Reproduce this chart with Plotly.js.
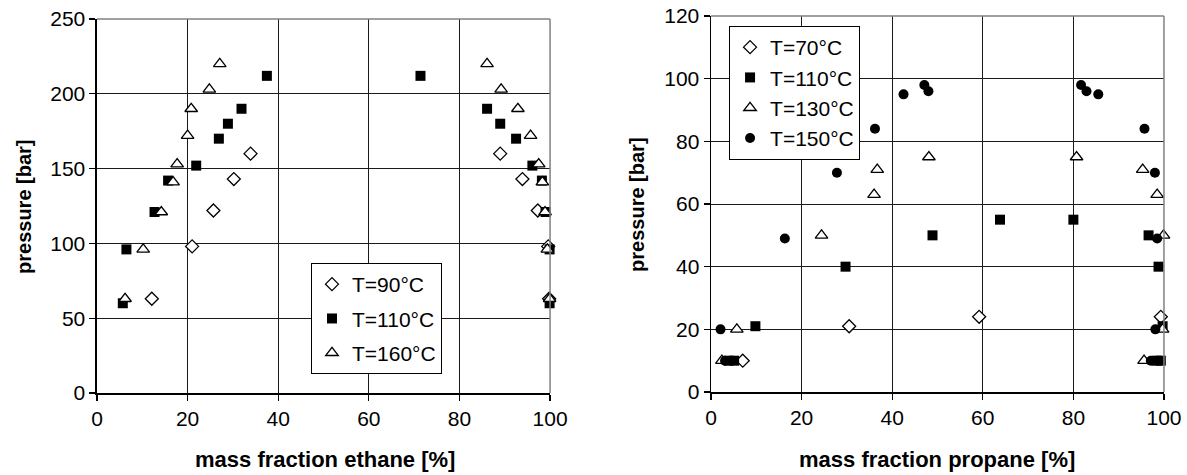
<!DOCTYPE html>
<html>
<head>
<meta charset="utf-8">
<script src="https://cdn.plot.ly/plotly-3.0.1.min.js"></script>
<style>html,body{margin:0;padding:0;background:#fff;}#chart{width:1187px;height:475px;}</style>
</head>
<body>
<div id="chart"></div>
<script>
// Left chart: ethane
const ethane90x  = [12.1, 21.0, 25.7, 30.2, 33.9, 89.0, 93.9, 97.3, 99.6, 99.8];
const ethane90y  = [63, 98, 122, 143, 160, 160, 143, 122, 98, 63];
const ethane110x = [5.7, 6.5, 12.7, 15.7, 21.9, 26.9, 28.9, 31.9, 37.5, 71.4, 86.1, 89.0, 92.5, 96.1, 98.2, 99.0, 99.9, 99.9];
const ethane110y = [60, 96, 121, 142, 152, 170, 180, 190, 212, 212, 190, 180, 170, 152, 142, 121, 96, 60];
const ethane160x = [6.2, 10.2, 14.2, 16.8, 17.7, 20.0, 20.8, 24.8, 27.1, 86.1, 89.2, 92.9, 95.7, 97.5, 98.3, 98.9, 99.4, 99.9];
const ethane160y = [63, 96, 121, 141, 153, 172, 190, 203, 220, 220, 203, 190, 172, 153, 141, 121, 96, 63];
// Right chart: propane
const propane70x  = [7.0, 30.5, 59.2, 99.3];
const propane70y  = [10, 21, 24, 24];
const propane110x = [3.9, 5.1, 9.8, 29.7, 48.9, 63.8, 80.0, 96.6, 98.8, 99.7, 98.4, 99.3];
const propane110y = [10, 10, 21, 40, 50, 55, 55, 50, 40, 21, 10, 10];
const propane130x = [2.4, 5.7, 24.4, 36.0, 36.7, 48.1, 80.7, 95.3, 98.5, 99.9, 99.7, 95.6];
const propane130y = [10, 20, 50, 63, 71, 75, 75, 71, 63, 50, 20, 10];
const propane150x = [2.1, 3.1, 16.3, 27.8, 36.2, 42.5, 47.1, 48.0, 81.7, 82.9, 85.5, 95.7, 98.0, 98.5, 98.1, 97.1];
const propane150y = [20, 10, 49, 70, 84, 95, 98, 96, 98, 96, 95, 84, 70, 49, 20, 10];

const leftNames  = ['T=90°C', 'T=110°C', 'T=160°C'];
const rightNames = ['T=70°C', 'T=110°C', 'T=130°C', 'T=150°C'];
const xTicks = [0, 20, 40, 60, 80, 100];

const FONT = 'Liberation Sans, Arial, sans-serif';
const openMarker = (sym, size) => ({symbol: sym, size: size, color: '#fff', line: {color: '#000', width: 1.3}});
const fillMarker = (sym, size) => ({symbol: sym, size: size, color: '#000', line: {color: '#000', width: 0}});

const common = {mode: 'markers', cliponaxis: false};
const traces = [
  Object.assign({x: ethane90x, y: ethane90y, name: leftNames[0], marker: openMarker('diamond', 10), xaxis: 'x', yaxis: 'y', legend: 'legend', legendgroup: 'a'}, common),
  Object.assign({x: ethane110x, y: ethane110y, name: leftNames[1], marker: fillMarker('square', 10), xaxis: 'x', yaxis: 'y', legend: 'legend', legendgroup: 'b'}, common),
  Object.assign({x: ethane160x, y: ethane160y, name: leftNames[2], marker: openMarker('triangle-up', 11), xaxis: 'x', yaxis: 'y', legend: 'legend', legendgroup: 'c'}, common),
  Object.assign({x: propane70x, y: propane70y, name: rightNames[0], marker: openMarker('diamond', 10), xaxis: 'x2', yaxis: 'y2', legend: 'legend2', legendgroup: 'd'}, common),
  Object.assign({x: propane110x, y: propane110y, name: rightNames[1], marker: fillMarker('square', 10), xaxis: 'x2', yaxis: 'y2', legend: 'legend2', legendgroup: 'e'}, common),
  Object.assign({x: propane130x, y: propane130y, name: rightNames[2], marker: openMarker('triangle-up', 11), xaxis: 'x2', yaxis: 'y2', legend: 'legend2', legendgroup: 'f'}, common),
  Object.assign({x: propane150x, y: propane150y, name: rightNames[3], marker: fillMarker('circle', 10), xaxis: 'x2', yaxis: 'y2', legend: 'legend2', legendgroup: 'g'}, common)
];

const axisBase = {
  showgrid: true, gridcolor: '#1a1a1a', gridwidth: 1,
  showline: true, linecolor: '#000', linewidth: 1.5,
  ticks: 'outside', ticklen: 6, tickcolor: '#000', tickwidth: 1.2,
  zeroline: false, automargin: false,
  tickfont: {family: FONT, size: 21, color: '#000'}
};

const legendBase = {
  xanchor: 'left', yanchor: 'top', bgcolor: '#fff',
  bordercolor: '#000', borderwidth: 1,
  font: {family: FONT, size: 21, color: '#000'},
  traceorder: 'grouped', itemwidth: 30, itemsizing: 'trace'
};

const xTitleFont = {family: FONT, size: 22, color: '#000'};
const yTitleFont = {family: FONT, size: 20, color: '#000'};
const layout = {
  width: 1187, height: 475,
  margin: {l: 0, r: 0, t: 0, b: 0},
  paper_bgcolor: '#fff', plot_bgcolor: '#fff',
  showlegend: true,
  xaxis: Object.assign({}, axisBase, {domain: [0.0817, 0.4634], range: [0, 100], tickvals: xTicks, anchor: 'y'}),
  yaxis: Object.assign({}, axisBase, {domain: [0.1726, 0.96], range: [0, 250], dtick: 50, anchor: 'x'}),
  xaxis2: Object.assign({}, axisBase, {domain: [0.599, 0.9806], range: [0, 100], tickvals: xTicks, anchor: 'y2'}),
  yaxis2: Object.assign({}, axisBase, {domain: [0.1747, 0.9663], range: [0, 120], dtick: 20, anchor: 'x2'}),
  legend: Object.assign({}, legendBase, {x: 0.262, y: 0.4463, tracegroupgap: 4}),
  legend2: Object.assign({}, legendBase, {x: 0.6142, y: 0.9453, tracegroupgap: 0}),
  shapes: [
    {type: 'line', xref: 'x domain', yref: 'y domain', x0: 0, x1: 1, y0: 1, y1: 1, line: {color: '#808080', width: 1.5}},
    {type: 'line', xref: 'x domain', yref: 'y domain', x0: 1, x1: 1, y0: 0, y1: 1, line: {color: '#808080', width: 1.5}},
    {type: 'line', xref: 'x2 domain', yref: 'y2 domain', x0: 0, x1: 1, y0: 1, y1: 1, line: {color: '#808080', width: 1.5}},
    {type: 'line', xref: 'x2 domain', yref: 'y2 domain', x0: 1, x1: 1, y0: 0, y1: 1, line: {color: '#808080', width: 1.5}}
  ],
  annotations: [
    {text: '<b>pressure [bar]</b>', xref: 'paper', yref: 'paper', x: 0.0202, y: 0.5663, xanchor: 'center', yanchor: 'middle', textangle: -90, showarrow: false, font: yTitleFont},
    {text: '<b>mass fraction ethane [%]</b>', xref: 'paper', yref: 'paper', x: 0.2738, y: 0.0316, xanchor: 'center', yanchor: 'middle', showarrow: false, font: xTitleFont},
    {text: '<b>pressure [bar]</b>', xref: 'paper', yref: 'paper', x: 0.5366, y: 0.5705, xanchor: 'center', yanchor: 'middle', textangle: -90, showarrow: false, font: yTitleFont},
    {text: '<b>mass fraction propane [%]</b>', xref: 'paper', yref: 'paper', x: 0.7894, y: 0.0316, xanchor: 'center', yanchor: 'middle', showarrow: false, font: xTitleFont}
  ]
};

Plotly.newPlot('chart', traces, layout, {displayModeBar: false, staticPlot: true});
</script>
</body>
</html>
